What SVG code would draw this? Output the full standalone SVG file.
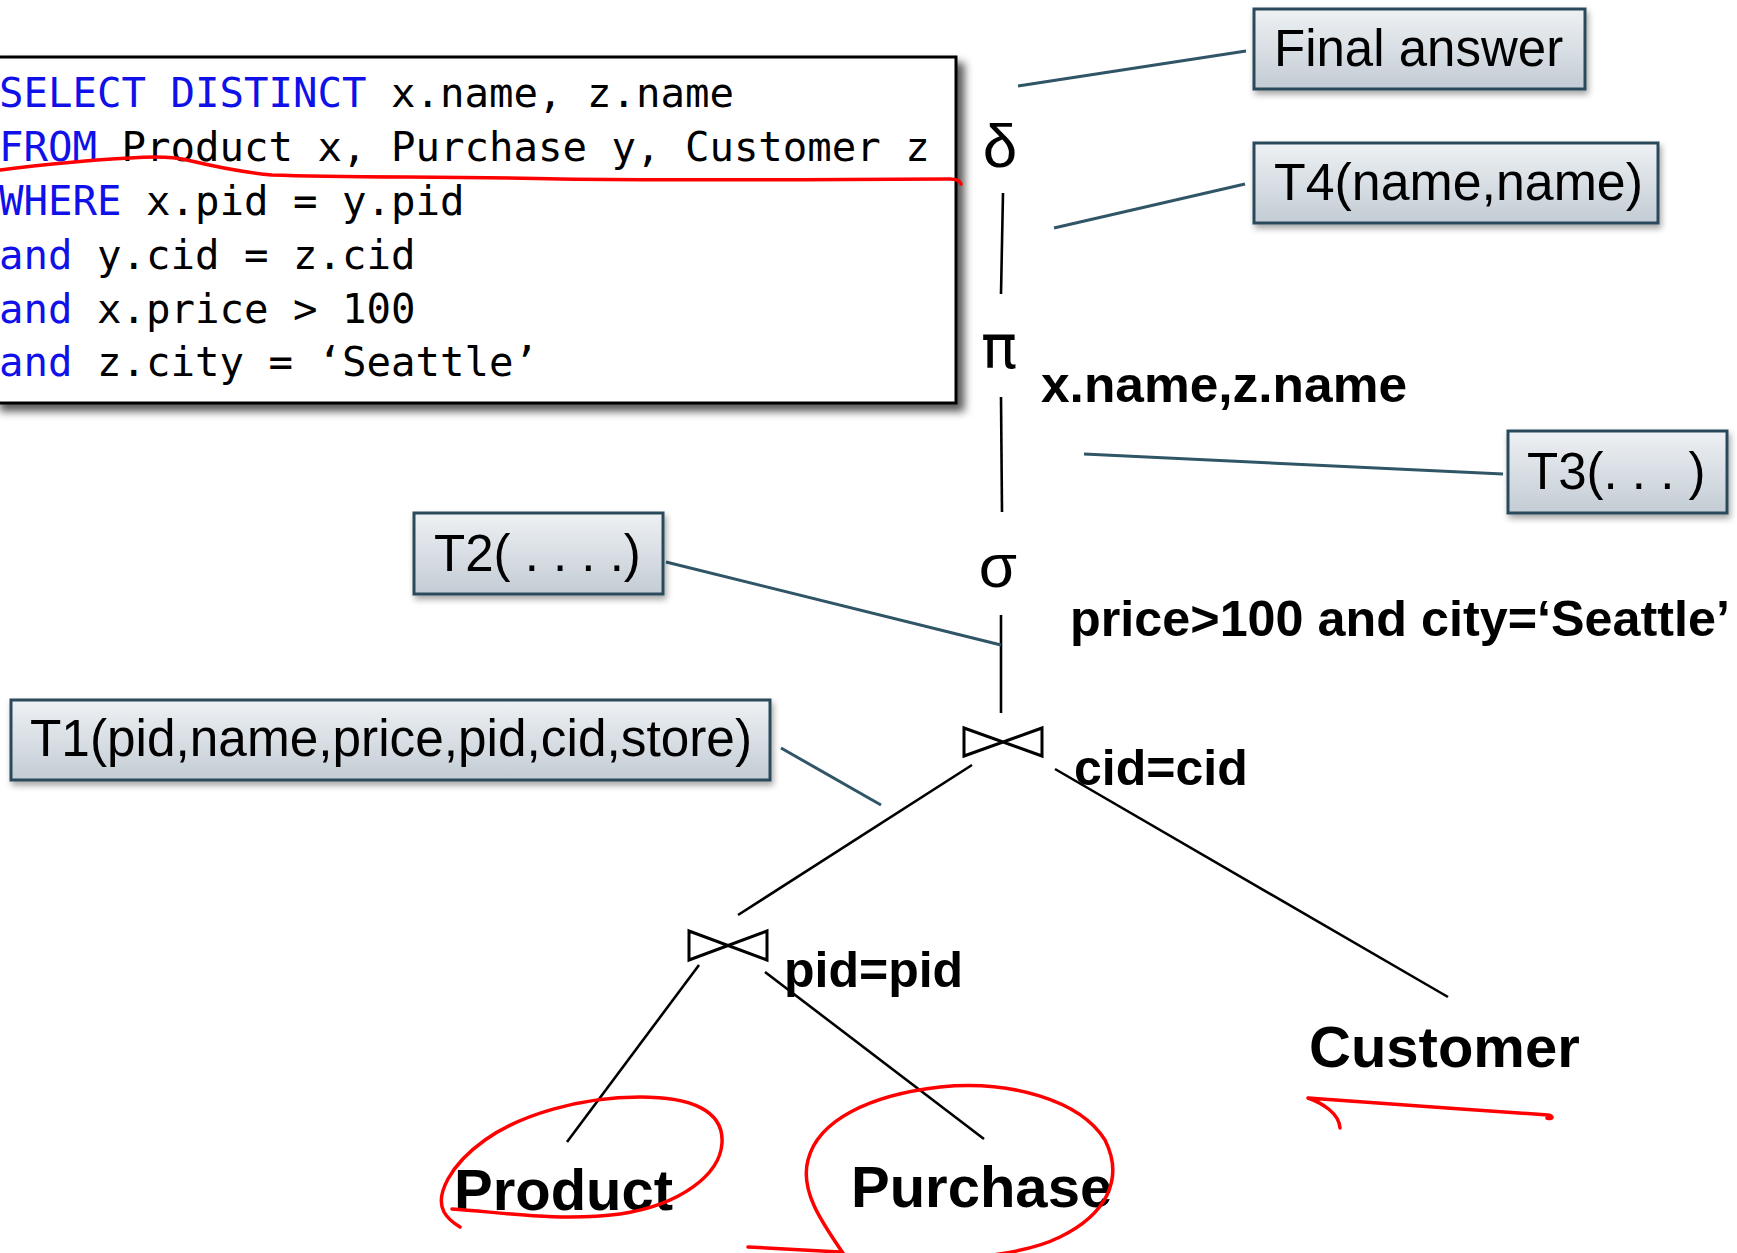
<svg xmlns="http://www.w3.org/2000/svg" width="1737" height="1253" viewBox="0 0 1737 1253">
  <defs>
    <linearGradient id="calloutFill" x1="0" y1="0" x2="0" y2="1">
      <stop offset="0" stop-color="#eef1f4"/>
      <stop offset="1" stop-color="#c3ccd4"/>
    </linearGradient>
    <filter id="boxShadow" x="-5%" y="-5%" width="115%" height="125%">
      <feDropShadow dx="7" dy="7" stdDeviation="4" flood-color="#000" flood-opacity="0.65"/>
    </filter>
    <filter id="calloutShadow" x="-5%" y="-10%" width="115%" height="140%">
      <feDropShadow dx="2" dy="4" stdDeviation="3" flood-color="#000" flood-opacity="0.35"/>
    </filter>
    <style>
      .sql { font-family: "DejaVu Sans Mono", "Liberation Mono", monospace; font-size: 40.7px; fill: #000; }
      .kw { fill: #1010e8; }
      .callout rect { fill: url(#calloutFill); stroke: #2b4a5a; stroke-width: 3; }
      .callout text { font-family: "Liberation Sans", Arial, sans-serif; font-size: 51px; fill: #000; }
      .op { font-family: "Liberation Sans", Arial, sans-serif; font-size: 62px; fill: #000; text-anchor: middle; }
      .pi { font-family: "DejaVu Sans", "Liberation Sans", sans-serif; font-size: 60px; }
      .cond { font-family: "Liberation Sans", Arial, sans-serif; font-size: 50px; font-weight: bold; fill: #000; }
      .rel { font-family: "Liberation Sans", Arial, sans-serif; font-size: 58px; font-weight: bold; fill: #000; }
      .join { fill: none; stroke: #000; stroke-width: 3; stroke-linejoin: miter; }
      .edge { stroke: #000; stroke-width: 2.6; fill: none; }
      .leader { stroke: #2f5566; stroke-width: 3; fill: none; }
      .ink { stroke: #ff0000; stroke-width: 3.5; fill: none; stroke-linecap: round; stroke-linejoin: round; }
    </style>
  </defs>

  <rect width="1737" height="1253" fill="#fff"/>

  <!-- SQL query box -->
  <g id="sql-query">
    <rect x="-6" y="57" width="962" height="346" fill="#fff" stroke="#000" stroke-width="3" filter="url(#boxShadow)"/>
    <text class="sql" x="-1" y="107"><tspan class="kw">SELECT DISTINCT</tspan> x.name, z.name</text>
    <text class="sql" x="-1" y="161"><tspan class="kw">FROM</tspan> Product x, Purchase y, Customer z</text>
    <text class="sql" x="-1" y="215"><tspan class="kw">WHERE</tspan> x.pid = y.pid</text>
    <text class="sql" x="-1" y="269"><tspan class="kw">and</tspan> y.cid = z.cid</text>
    <text class="sql" x="-1" y="323"><tspan class="kw">and</tspan> x.price &gt; 100</text>
    <text class="sql" x="-1" y="376"><tspan class="kw">and</tspan> z.city = ‘Seattle’</text>
  </g>

  <!-- Operator tree edges and callout leaders -->
  <g id="connectors">
    <line class="edge" x1="1003" y1="193" x2="1001" y2="294"/>
    <line class="edge" x1="1001" y1="397" x2="1002" y2="512"/>
    <line class="edge" x1="1001" y1="615" x2="1001" y2="713"/>
    <line class="edge" x1="972" y1="765" x2="738" y2="915"/>
    <line class="edge" x1="1055" y1="769" x2="1448" y2="997"/>
    <line class="edge" x1="699" y1="965" x2="567" y2="1142"/>
    <line class="edge" x1="765" y1="972" x2="984" y2="1139"/>

    <line class="leader" x1="1246" y1="51" x2="1018" y2="86"/>
    <line class="leader" x1="1245" y1="184" x2="1054" y2="228"/>
    <line class="leader" x1="1503" y1="474" x2="1084" y2="454"/>
    <line class="leader" x1="666" y1="562" x2="1001" y2="645"/>
    <line class="leader" x1="781" y1="748" x2="881" y2="805"/>
  </g>

  <!-- Relational algebra operators -->
  <g id="op-distinct">
    <text class="op" x="1000" y="167">δ</text>
  </g>
  <g id="op-project">
    <text class="op pi" x="999" y="368">π</text>
    <text class="cond" x="1041" y="402" textLength="366" lengthAdjust="spacingAndGlyphs">x.name,z.name</text>
  </g>
  <g id="op-select">
    <text class="op" x="998" y="587">σ</text>
    <text class="cond" x="1070" y="636" textLength="660" lengthAdjust="spacingAndGlyphs">price&gt;100 and city=‘Seattle’</text>
  </g>
  <g id="op-join-cid">
    <path class="join" d="M964,728 L1042,756 L1042,728 L964,756 Z"/>
    <text class="cond" x="1074" y="785">cid=cid</text>
  </g>
  <g id="op-join-pid">
    <path class="join" d="M689,931 L767,960 L767,931 L689,960 Z"/>
    <text class="cond" x="784" y="987">pid=pid</text>
  </g>

  <!-- Base relations -->
  <g id="rel-product">
    <text class="rel" x="454" y="1210">Product</text>
  </g>
  <g id="rel-purchase">
    <text class="rel" x="851" y="1207">Purchase</text>
  </g>
  <g id="rel-customer">
    <text class="rel" x="1309" y="1067">Customer</text>
  </g>

  <!-- Intermediate result callouts -->
  <g id="callout-final" class="callout">
    <rect x="1254" y="9" width="331" height="80" filter="url(#calloutShadow)"/>
    <text x="1274" y="66">Final answer</text>
  </g>
  <g id="callout-t4" class="callout">
    <rect x="1254" y="143" width="404" height="80" filter="url(#calloutShadow)"/>
    <text x="1274" y="200" textLength="369" lengthAdjust="spacingAndGlyphs">T4(name,name)</text>
  </g>
  <g id="callout-t3" class="callout">
    <rect x="1508" y="431" width="219" height="82" filter="url(#calloutShadow)"/>
    <text x="1527" y="489">T3(. . . )</text>
  </g>
  <g id="callout-t2" class="callout">
    <rect x="414" y="513" width="249" height="81" filter="url(#calloutShadow)"/>
    <text x="434" y="571">T2( . . . .)</text>
  </g>
  <g id="callout-t1" class="callout">
    <rect x="11" y="700" width="759" height="80" filter="url(#calloutShadow)"/>
    <text x="30" y="756" textLength="722" lengthAdjust="spacingAndGlyphs">T1(pid,name,price,pid,cid,store)</text>
  </g>

  <!-- Hand-drawn red markup -->
  <g id="markup">
    <path class="ink" d="M0,170 C40,165 90,160 130,158 C155,156 175,157 187,160 C212,166 240,172 272,175 C350,178 450,176 560,179 C700,181 850,179 950,179 C956,179 960,181 961,184"/>
    <path class="ink" d="M452,1209 C500,1212 560,1222 620,1214 C680,1205 720,1175 722,1143 C724,1110 690,1097 640,1097 C580,1097 520,1115 485,1140 C450,1165 435,1195 444,1212 C448,1219 455,1224 460,1227"/>
    <path class="ink" d="M748,1247 C790,1249 820,1251 840,1252"/>
    <path class="ink" d="M845,1256 C820,1220 800,1190 808,1160 C818,1120 870,1095 940,1087 C1010,1080 1080,1100 1105,1140 C1125,1180 1105,1215 1060,1237 C1040,1247 1010,1253 985,1256"/>
    <path class="ink" d="M1340,1128 C1339,1113 1322,1103 1308,1098 C1380,1103 1470,1110 1548,1115 C1554,1116 1553,1120 1547,1118"/>
  </g>
</svg>
